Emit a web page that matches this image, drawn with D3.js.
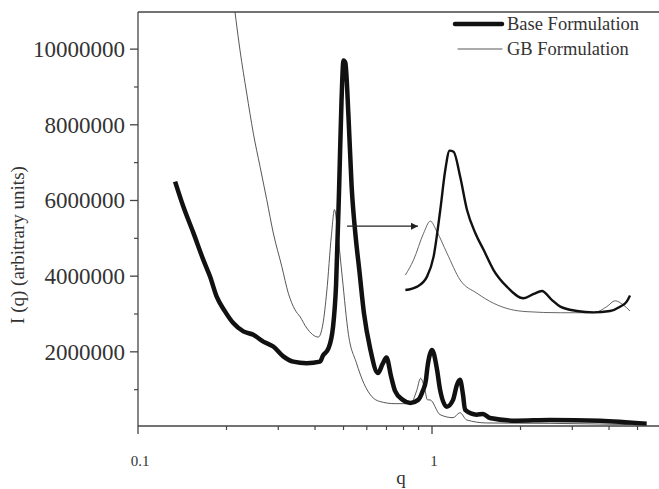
<!DOCTYPE html>
<html>
<head>
<meta charset="utf-8">
<script src="https://cdn.jsdelivr.net/npm/d3@7"></script>
<style>
  body { margin: 0; background: #fff; }
</style>
</head>
<body>
<div id="chart"></div>
<script>
// q values and intensities (millions of arbitrary units)
const baseQ = [0.1337, 0.1426, 0.1542, 0.1668, 0.1758, 0.1852, 0.1976, 0.2109, 0.2282, 0.2467,
    0.2668, 0.2885, 0.3120, 0.3374, 0.3748, 0.4159, 0.4256, 0.4443, 0.4605, 0.4717,
    0.4833, 0.4922, 0.5000, 0.5073, 0.5197, 0.5328, 0.5493, 0.5662, 0.5869, 0.6160,
    0.6547, 0.6792, 0.7000, 0.7262, 0.7485, 0.7950, 0.8445, 0.8973, 0.9305, 0.9534,
    0.9650, 0.985, 1.000, 1.040, 1.065, 1.122, 1.179, 1.216, 1.245, 1.275,
    1.295, 1.419, 1.491, 1.574, 1.941, 2.518, 3.724, 5.37];
const baseI = [6.50, 5.84, 5.15, 4.43, 3.99, 3.46, 3.07, 2.76, 2.54, 2.45,
    2.27, 2.14, 1.88, 1.74, 1.70, 1.74, 1.90, 2.09, 2.65, 3.77,
    6.38, 8.62, 9.70, 9.64, 8.24, 6.38, 5.08, 4.14, 3.02, 2.09,
    1.44, 1.68, 1.85, 1.34, 0.97, 0.73, 0.65, 0.73, 0.97, 1.25,
    1.60, 1.95, 2.05, 1.53, 1.00, 0.55, 0.73, 1.13, 1.26, 0.86,
    0.47, 0.34, 0.36, 0.25, 0.18, 0.20, 0.18, 0.10];

const gbQ = [0.209, 0.2222, 0.2342, 0.2467, 0.2600, 0.2741, 0.2885, 0.3083, 0.3245, 0.3420,
    0.3556, 0.3748, 0.4105, 0.4256, 0.4384, 0.4548, 0.4660, 0.4774, 0.4953, 0.5197,
    0.5525, 0.5869, 0.6237, 0.6630, 0.7485, 0.8445, 0.8866, 0.9141, 0.9422, 0.9650,
    0.9844, 1.065, 1.179, 1.245, 1.312, 1.535, 2.518, 5.37];
const gbI = [11.6, 9.98, 8.84, 7.78, 6.90, 6.02, 5.14, 4.26, 3.55, 3.11,
    2.93, 2.63, 2.39, 2.74, 3.58, 5.08, 5.76, 5.17, 3.96, 2.46,
    1.72, 1.16, 0.82, 0.69, 0.63, 0.63, 0.97, 1.30, 1.06, 0.73,
    0.73, 0.34, 0.26, 0.39, 0.20, 0.12, 0.11, 0.07];

const yTicks = [2, 4, 6, 8, 10];
const yMinorTicks = [1, 3, 5, 7, 9];
const xTickLabels = [{ q: 0.1, label: "0.1" }, { q: 1, label: "1" }];
const xMinorTicks = [0.2, 0.3, 0.4, 0.5, 0.6, 0.7, 0.8, 0.9, 2, 3, 4, 5];
const seriesNames = ["Base Formulation", "GB Formulation"];
const arrowQ = [0.514, 0.896];
const arrowI = 5.32;

const W = 659, H = 489;
const serif = "'Liberation Serif', 'Times New Roman', Times, 'DejaVu Serif', serif";
const svg = d3.select("#chart").append("svg")
    .attr("width", W)
    .attr("height", H)
    .style("font-family", serif);

// Main scales
const x = d3.scaleLog().domain([0.1, 6]).range([138, 660.8]);
const y = d3.scaleLinear().domain([0, 11]).range([427.5, 11.3]);
const plotTop = 12, plotBottom = 426, plotLeft = 138, plotRight = W;

svg.append("defs").append("clipPath")
    .attr("id", "plot-clip")
    .append("rect")
    .attr("x", plotLeft).attr("y", plotTop)
    .attr("width", plotRight - plotLeft).attr("height", plotBottom - plotTop);

const baseData = baseQ.map((q, i) => ({ q, v: baseI[i] }));
const gbData = gbQ.map((q, i) => ({ q, v: gbI[i] }));

const line = d3.line()
    .x(d => x(d.q))
    .y(d => y(d.v))
    .curve(d3.curveMonotoneX);

const plot = svg.append("g").attr("clip-path", "url(#plot-clip)");

plot.append("path")
    .datum(gbData)
    .attr("d", line)
    .attr("fill", "none")
    .attr("stroke", "#444")
    .attr("stroke-width", 0.9);

plot.append("path")
    .datum(baseData)
    .attr("d", line)
    .attr("fill", "none")
    .attr("stroke", "#111")
    .attr("stroke-width", 4.5)
    .attr("stroke-linejoin", "round");

// Inset: same data, magnified around the first peak
const xIn = d3.scaleLog().domain([0.425, 0.965]).range([405, 630]);
const yIn = d3.scaleLinear().domain([0, 10]).range([324, 145.3]);
const lineIn = d3.line()
    .x(d => xIn(d.q))
    .y(d => yIn(d.v))
    .curve(d3.curveMonotoneX);
const inRange = d => d.q >= 0.425 && d.q <= 0.966;

svg.append("path")
    .datum(gbData.filter(inRange))
    .attr("d", lineIn)
    .attr("fill", "none")
    .attr("stroke", "#555")
    .attr("stroke-width", 0.9);

svg.append("path")
    .datum(baseData.filter(inRange))
    .attr("d", lineIn)
    .attr("fill", "none")
    .attr("stroke", "#111")
    .attr("stroke-width", 2.4)
    .attr("stroke-linejoin", "round");

// Arrow from main peak to inset
svg.append("defs").append("marker")
    .attr("id", "arrowhead")
    .attr("viewBox", "0 0 10 10")
    .attr("refX", 10).attr("refY", 5)
    .attr("markerWidth", 9).attr("markerHeight", 7)
    .attr("markerUnits", "userSpaceOnUse")
    .attr("orient", "auto")
    .append("path")
    .attr("d", "M0,0 L10,5 L0,10 z")
    .attr("fill", "#222");

svg.append("line")
    .attr("x1", x(arrowQ[0])).attr("x2", x(arrowQ[1]))
    .attr("y1", y(arrowI)).attr("y2", y(arrowI))
    .attr("stroke", "#222")
    .attr("stroke-width", 1.2)
    .attr("marker-end", "url(#arrowhead)");

// Axes
const axisColor = "#444";
const textColor = "#333";
const xAxis = svg.append("g").attr("transform", `translate(0,${plotBottom})`);
xAxis.append("line")
    .attr("x1", plotLeft).attr("x2", plotRight)
    .attr("stroke", axisColor).attr("stroke-width", 1.3);
xAxis.selectAll(".xmajor")
    .data(xTickLabels)
    .enter().append("line")
    .attr("x1", d => x(d.q)).attr("x2", d => x(d.q))
    .attr("y1", 0).attr("y2", 8)
    .attr("stroke", axisColor).attr("stroke-width", 1.3);
xAxis.selectAll(".xminor")
    .data(xMinorTicks)
    .enter().append("line")
    .attr("x1", d => x(d)).attr("x2", d => x(d))
    .attr("y1", 0).attr("y2", 4)
    .attr("stroke", axisColor).attr("stroke-width", 1.2);
xAxis.selectAll(".xlabel")
    .data(xTickLabels)
    .enter().append("text")
    .attr("x", d => x(d.q) + 2)
    .attr("y", 40)
    .attr("text-anchor", "middle")
    .attr("fill", textColor)
    .style("font-size", "15px")
    .text(d => d.label);

const yAxis = svg.append("g").attr("transform", `translate(${plotLeft},0)`);
yAxis.append("line")
    .attr("y1", plotTop).attr("y2", plotBottom)
    .attr("stroke", axisColor).attr("stroke-width", 1.3);
yAxis.selectAll(".ymajor")
    .data(yTicks)
    .enter().append("line")
    .attr("x1", -8).attr("x2", 0)
    .attr("y1", d => y(d)).attr("y2", d => y(d))
    .attr("stroke", axisColor).attr("stroke-width", 1.3);
yAxis.selectAll(".yminor")
    .data(yMinorTicks)
    .enter().append("line")
    .attr("x1", -4).attr("x2", 0)
    .attr("y1", d => y(d)).attr("y2", d => y(d))
    .attr("stroke", axisColor).attr("stroke-width", 1.2);
yAxis.selectAll(".ylabel")
    .data(yTicks)
    .enter().append("text")
    .attr("x", -13)
    .attr("y", d => y(d))
    .attr("dy", "0.34em")
    .attr("text-anchor", "end")
    .attr("fill", textColor)
    .style("font-size", "23px")
    .text(d => d3.format("d")(d * 1e6));

// Top frame line
svg.append("line")
    .attr("x1", plotLeft).attr("x2", plotRight)
    .attr("y1", plotTop).attr("y2", plotTop)
    .attr("stroke", axisColor).attr("stroke-width", 1.3);

// Axis titles
svg.append("text")
    .attr("x", 401).attr("y", 484)
    .attr("text-anchor", "middle")
    .attr("fill", textColor)
    .style("font-size", "19px")
    .text("q");

svg.append("text")
    .attr("transform", "translate(24,245) rotate(-90)")
    .attr("text-anchor", "middle")
    .attr("fill", textColor)
    .style("font-size", "19px")
    .text("I (q) (arbitrary units)");

// Legend
const legend = svg.append("g");
const legendRows = [
    { name: seriesNames[0], width: 4.5, color: "#111", x1: 455, ly: 24 },
    { name: seriesNames[1], width: 0.9, color: "#444", x1: 458, ly: 49 }
];
legend.selectAll(".legend-line")
    .data(legendRows)
    .enter().append("line")
    .attr("x1", d => d.x1).attr("x2", 502)
    .attr("y1", d => d.ly).attr("y2", d => d.ly)
    .attr("stroke", d => d.color)
    .attr("stroke-width", d => d.width)
    .attr("stroke-linecap", "round");
legend.selectAll(".legend-text")
    .data(legendRows)
    .enter().append("text")
    .attr("x", 507)
    .attr("y", d => d.ly)
    .attr("dy", "0.33em")
    .attr("fill", textColor)
    .style("font-size", "18.5px")
    .text(d => d.name);
</script>
</body>
</html>
